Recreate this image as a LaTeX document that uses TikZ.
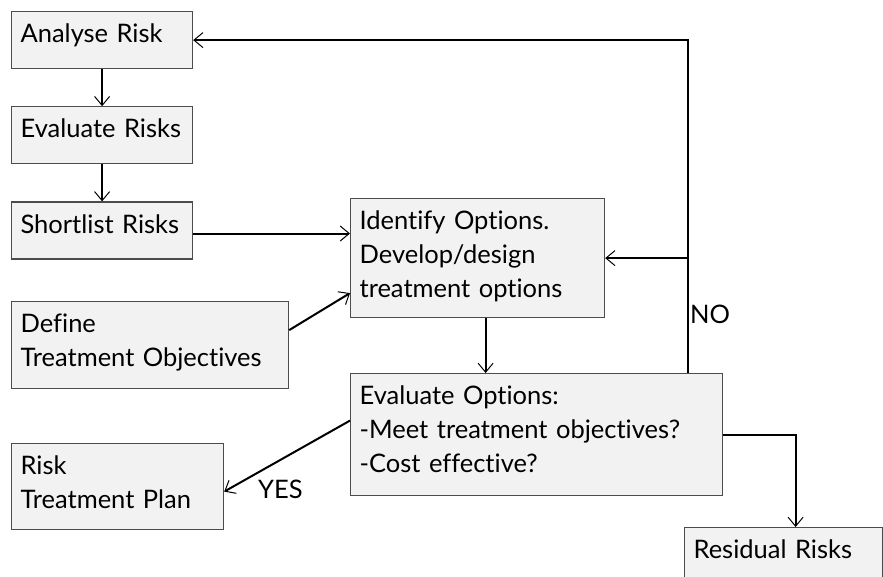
\documentclass[tikz,border=0pt]{standalone}
\usepackage{fontspec}
\setmainfont{Lato}[Ligatures=NoCommon]
\usepackage{xcolor}
\usetikzlibrary{positioning}
\usetikzlibrary{calc}
\usetikzlibrary{arrows.meta}

\begin{document}
\begin{tikzpicture}[x=1pt, y=-1pt, font=\fontsize{25.5}{34}\selectfont, align=left, rknode/.style={rectangle,draw=black!70,fill=black!5,line width=1.2pt,inner xsep=9pt,inner ysep=0pt,text height=31pt,anchor=north west}, flow/.style={line width=2pt,-{Straight Barb[length=9pt,width=15pt,line width=1pt]}}, node distance = 37pt]
	\useasboundingbox (0,0) rectangle (883,576);
	\node[rknode, text width=163pt, text depth=26pt] (analyse) at (11,11) {Analyse Risk};
	\node[rknode, text width=163pt, text depth=26pt, anchor=north] (evalrisk) [below = of analyse] {Evaluate Risks};
	\node[rknode, text width=163pt, text depth=26pt, anchor=north] (shortlist) [below = of evalrisk] {Shortlist Risks};
	\node[rknode, text width=259pt, text depth=56pt] (define) at (11,301) {Define\\Treatment Objectives};
	\node[rknode, text width=236pt, text depth=88pt] (identify) at (350,198) {Identify Options.\\Develop/design\\treatment options};
	\node[rknode, text width=354pt, text depth=91pt] (evalopt) at (350,373) {Evaluate Options:\\-Meet treatment objectives?\\-Cost effective?};
	\node[rknode, text width=194pt, text depth=55pt] (plan) at (11,443) {Risk\\Treatment Plan};
	\node[rknode, text width=180pt, text depth=29pt] (residual) at (684,527) {Residual Risks};
	\coordinate (loopstart) at ([xshift=-35pt]evalopt.north east);
	\node[anchor=base west, inner sep=0pt] (nolabel) at (690,323) {NO};
	\node[anchor=base west, inner sep=0pt] (yeslabel) at (258,498) {YES};
	\draw[flow] (analyse) -- (evalrisk);
	\draw[flow] (evalrisk) -- (shortlist);
	\draw[flow] ([yshift=-3pt]shortlist.east) -- ([yshift=-3pt]shortlist.east -| identify.west);
	\draw[flow] ([yshift=15pt]define.east) -- ([yshift=-35pt]identify.west);
	\draw[flow] ([xshift=8pt]identify.south) -- ([xshift=8pt]identify.south |- evalopt.north);
	\draw[flow] (loopstart) |- (analyse.east);
	\draw[flow] (identify.east -| loopstart) -- (identify.east);
	\draw[flow] ([yshift=14pt]evalopt.west) -- ([yshift=-5pt]plan.east);
	\draw[flow] (evalopt.east) -| ([xshift=12pt]residual.north);
\end{tikzpicture}
\end{document}
